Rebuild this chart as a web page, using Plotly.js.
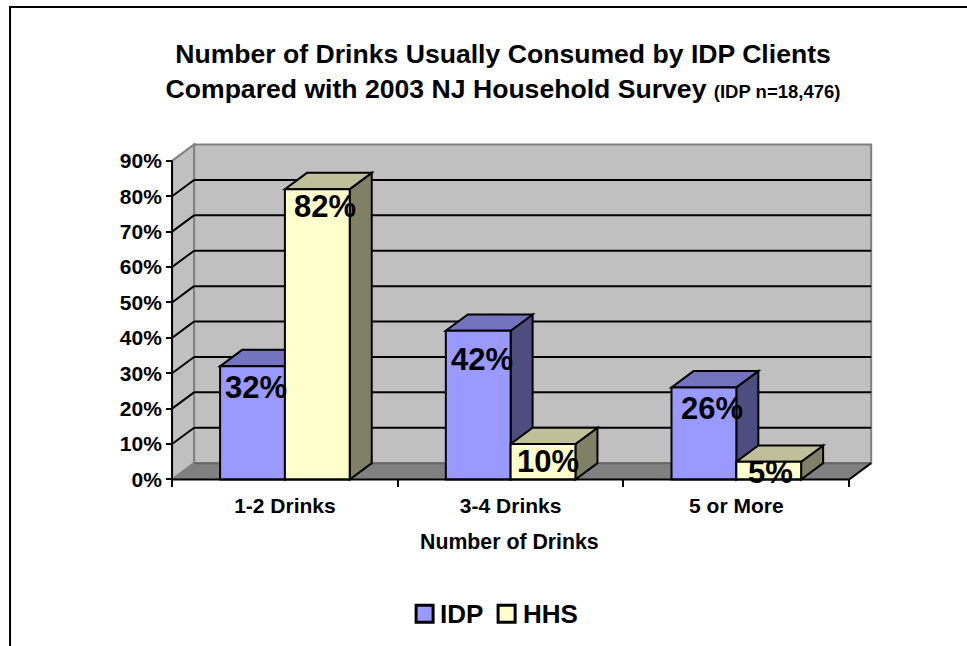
<!DOCTYPE html>
<html><head><meta charset="utf-8">
<script src="https://cdn.plot.ly/plotly-3.0.1.min.js"></script>
<style>html,body{margin:0;padding:0;background:#fff;overflow:hidden}</style>
</head><body><div id="chart" style="width:967px;height:646px"></div>
<script>
const categories = ['1-2 Drinks', '3-4 Drinks', '5 or More'];
const seriesNames = ['IDP', 'HHS'];
const idpValues = [32, 42, 26];
const hhsValues = [82, 10, 5];
const yTicks = [0, 10, 20, 30, 40, 50, 60, 70, 80, 90];
const frontColors = ['#9999FF', '#FFFFCC'];
const topColors = ['#7373BF', '#BFBF99'];
const sideColors = ['#4D4D80', '#808066'];

const FONT = '"Liberation Sans", Arial, sans-serif';
const W = 967, H = 646;
const pxX = 225.67, pxY = 3.54, x0px = 172, y0px = 479.3;
const depthX = 22 / pxX, depthY = 16.3 / pxY;
const xRange = [-0.518, 2.61], yRange = [-1, 95.6];
const barW = 64.8 / pxX;
const series = [idpValues, hhsValues];

const marginL = x0px + (xRange[0] + 0.5) * pxX;
const marginR = W - (x0px + (xRange[1] + 0.5) * pxX);
const marginT = y0px - yRange[1] * pxY;
const marginB = H - (y0px - yRange[0] * pxY);
const plotW = W - marginL - marginR, plotH = H - marginT - marginB;
const pX = px => (px - marginL) / plotW;
const pY = py => 1 - (py - marginT) / plotH;

const path = pts => 'M' + pts.map(p => p[0] + ',' + p[1]).join('L') + 'Z';
const shapes = [];
const poly = (pts, fill, lineColor, lw) => shapes.push({type: 'path', xref: 'x', yref: 'y', layer: 'below',
  path: path(pts), fillcolor: fill, line: {color: lineColor || 'rgba(0,0,0,0)', width: lw === undefined ? 2 : lw}});
const seg = (a, b, color, lw) => shapes.push({type: 'line', xref: 'x', yref: 'y', layer: 'below',
  x0: a[0], y0: a[1], x1: b[0], y1: b[1], line: {color: color, width: lw || 2}});

const xL = -0.5, xR = 2.5, yMax = yTicks[yTicks.length - 1];
// walls and floor
poly([[xL + depthX, depthY], [xR + depthX, depthY], [xR + depthX, yMax + depthY], [xL + depthX, yMax + depthY]], '#C0C0C0', '#808080');
poly([[xL, 0], [xL + depthX, depthY], [xL + depthX, yMax + depthY], [xL, yMax]], '#C0C0C0', '#808080');
poly([[xL, 0], [xR, 0], [xR + depthX, depthY], [xL + depthX, depthY]], '#808080', null, 0);
seg([xL + depthX, depthY], [xR + depthX, depthY], '#666666');
seg([xL, 0], [xL + depthX, depthY], '#808080');
seg([xR, 0], [xR + depthX, depthY], '#000000');
// gridlines across back and side walls
yTicks.slice(1, -1).forEach(v => {
  seg([xL, v], [xL + depthX, v + depthY], '#000000');
  seg([xL + depthX, v + depthY], [xR + depthX, v + depthY], '#000000');
});
// 3D faces of the bars, from the same values as the bar fronts
series.forEach((vals, s) => {
  vals.forEach((v, c) => {
    const l = c - barW + s * barW, r = l + barW;
    poly([[r, 0], [r + depthX, depthY], [r + depthX, v + depthY], [r, v]], sideColors[s], '#000000');
    poly([[l, v], [r, v], [r + depthX, v + depthY], [l + depthX, v + depthY]], topColors[s], '#000000');
  });
});
// axis lines and frame
const above = (a, b) => shapes.push({type: 'line', xref: 'x', yref: 'y', layer: 'above',
  x0: a[0], y0: a[1], x1: b[0], y1: b[1], line: {color: '#000000', width: 2}});
above([xL, 0], [xR, 0]);
above([xL, 0], [xL, yMax]);
shapes.push({type: 'line', xref: 'paper', yref: 'paper', x0: pX(9), x1: pX(W + 5), y0: pY(7), y1: pY(7), line: {color: '#000', width: 2}});
shapes.push({type: 'line', xref: 'paper', yref: 'paper', x0: pX(10), x1: pX(10), y0: pY(6), y1: pY(H + 5), line: {color: '#000', width: 2}});

// data labels
const labelShiftX = [[3, 3.5, 8], [8, 5, 2]];
const labelShiftY = [[-21, -29, -21], [-17, -17, -10.5]];
const annotations = [];
series.forEach((vals, s) => vals.forEach((v, c) => {
  annotations.push({xref: 'x', yref: 'y', x: c - barW / 2 + s * barW, y: v, text: v + '%', showarrow: false,
    xanchor: 'center', yanchor: 'middle', xshift: labelShiftX[s][c], yshift: labelShiftY[s][c],
    font: {family: FONT, size: 31, color: '#000', weight: 700}});
}));

// axis title, centred under the front edge of the chart's floor
annotations.push({xref: 'paper', yref: 'paper', x: pX(509.5), y: pY(542), text: 'Number of Drinks', showarrow: false,
  xanchor: 'center', yanchor: 'middle', font: {family: FONT, size: 21.3, color: '#000', weight: 700}});

// legend
const legendKeys = [424.5, 506.5], legendText = [440, 523];
seriesNames.forEach((n, s) => {
  shapes.push({type: 'rect', xref: 'paper', yref: 'paper', x0: pX(legendKeys[s] - 8.5), x1: pX(legendKeys[s] + 8.5),
    y0: pY(605), y1: pY(622), fillcolor: frontColors[s], line: {color: '#000', width: 3}});
  annotations.push({xref: 'paper', yref: 'paper', x: pX(legendText[s]), y: pY(614), text: n, showarrow: false,
    xanchor: 'left', yanchor: 'middle', xshift: -2, font: {family: FONT, size: 26, color: '#000', weight: 700}});
});

const traces = series.map((vals, s) => ({
  type: 'bar', name: seriesNames[s], x: categories, y: vals,
  width: barW, marker: {color: frontColors[s], line: {color: '#000', width: 2}}, hoverinfo: 'skip'
}));

const layout = {
  width: W, height: H, paper_bgcolor: '#fff', plot_bgcolor: 'rgba(0,0,0,0)', showlegend: false,
  margin: {l: marginL, r: marginR, t: marginT, b: marginB, pad: 0, autoexpand: false},
  barmode: 'group', bargap: 1 - 2 * barW, bargroupgap: 0,
  font: {family: FONT, color: '#000'},
  title: {
    text: 'Number of Drinks Usually Consumed by IDP Clients<br>Compared with 2003 NJ Household Survey <span style="font-size:18.5px">(IDP n=18,476)</span>',
    x: 503 / W, xanchor: 'center', xref: 'container', y: 1 - 63 / H, yanchor: 'middle', yref: 'container',
    font: {family: FONT, size: 26.6, color: '#000', weight: 700}
  },
  xaxis: {
    type: 'category', categoryorder: 'array', categoryarray: categories, range: xRange, autorange: false,
    tickson: 'boundaries', ticks: 'outside', ticklen: 7, tickwidth: 2, tickcolor: '#000',
    showgrid: false, zeroline: false, showline: false, anchor: 'free', position: (0 - yRange[0]) / (yRange[1] - yRange[0]),
    tickfont: {family: FONT, size: 21, color: '#000', weight: 700}, ticklabelstandoff: 12
  },
  yaxis: {
    range: yRange, autorange: false, tickvals: yTicks, ticktext: yTicks.map(v => v + '%'),
    ticks: 'outside', ticklen: 6, tickwidth: 2, tickcolor: '#000',
    showgrid: false, zeroline: false, showline: false, anchor: 'free', position: (xL - xRange[0]) / (xRange[1] - xRange[0]),
    tickfont: {family: FONT, size: 21, color: '#000', weight: 700}
  },
  shapes: shapes, annotations: annotations
};
Plotly.newPlot('chart', traces, layout, {displayModeBar: false, staticPlot: true});
</script></body></html>
